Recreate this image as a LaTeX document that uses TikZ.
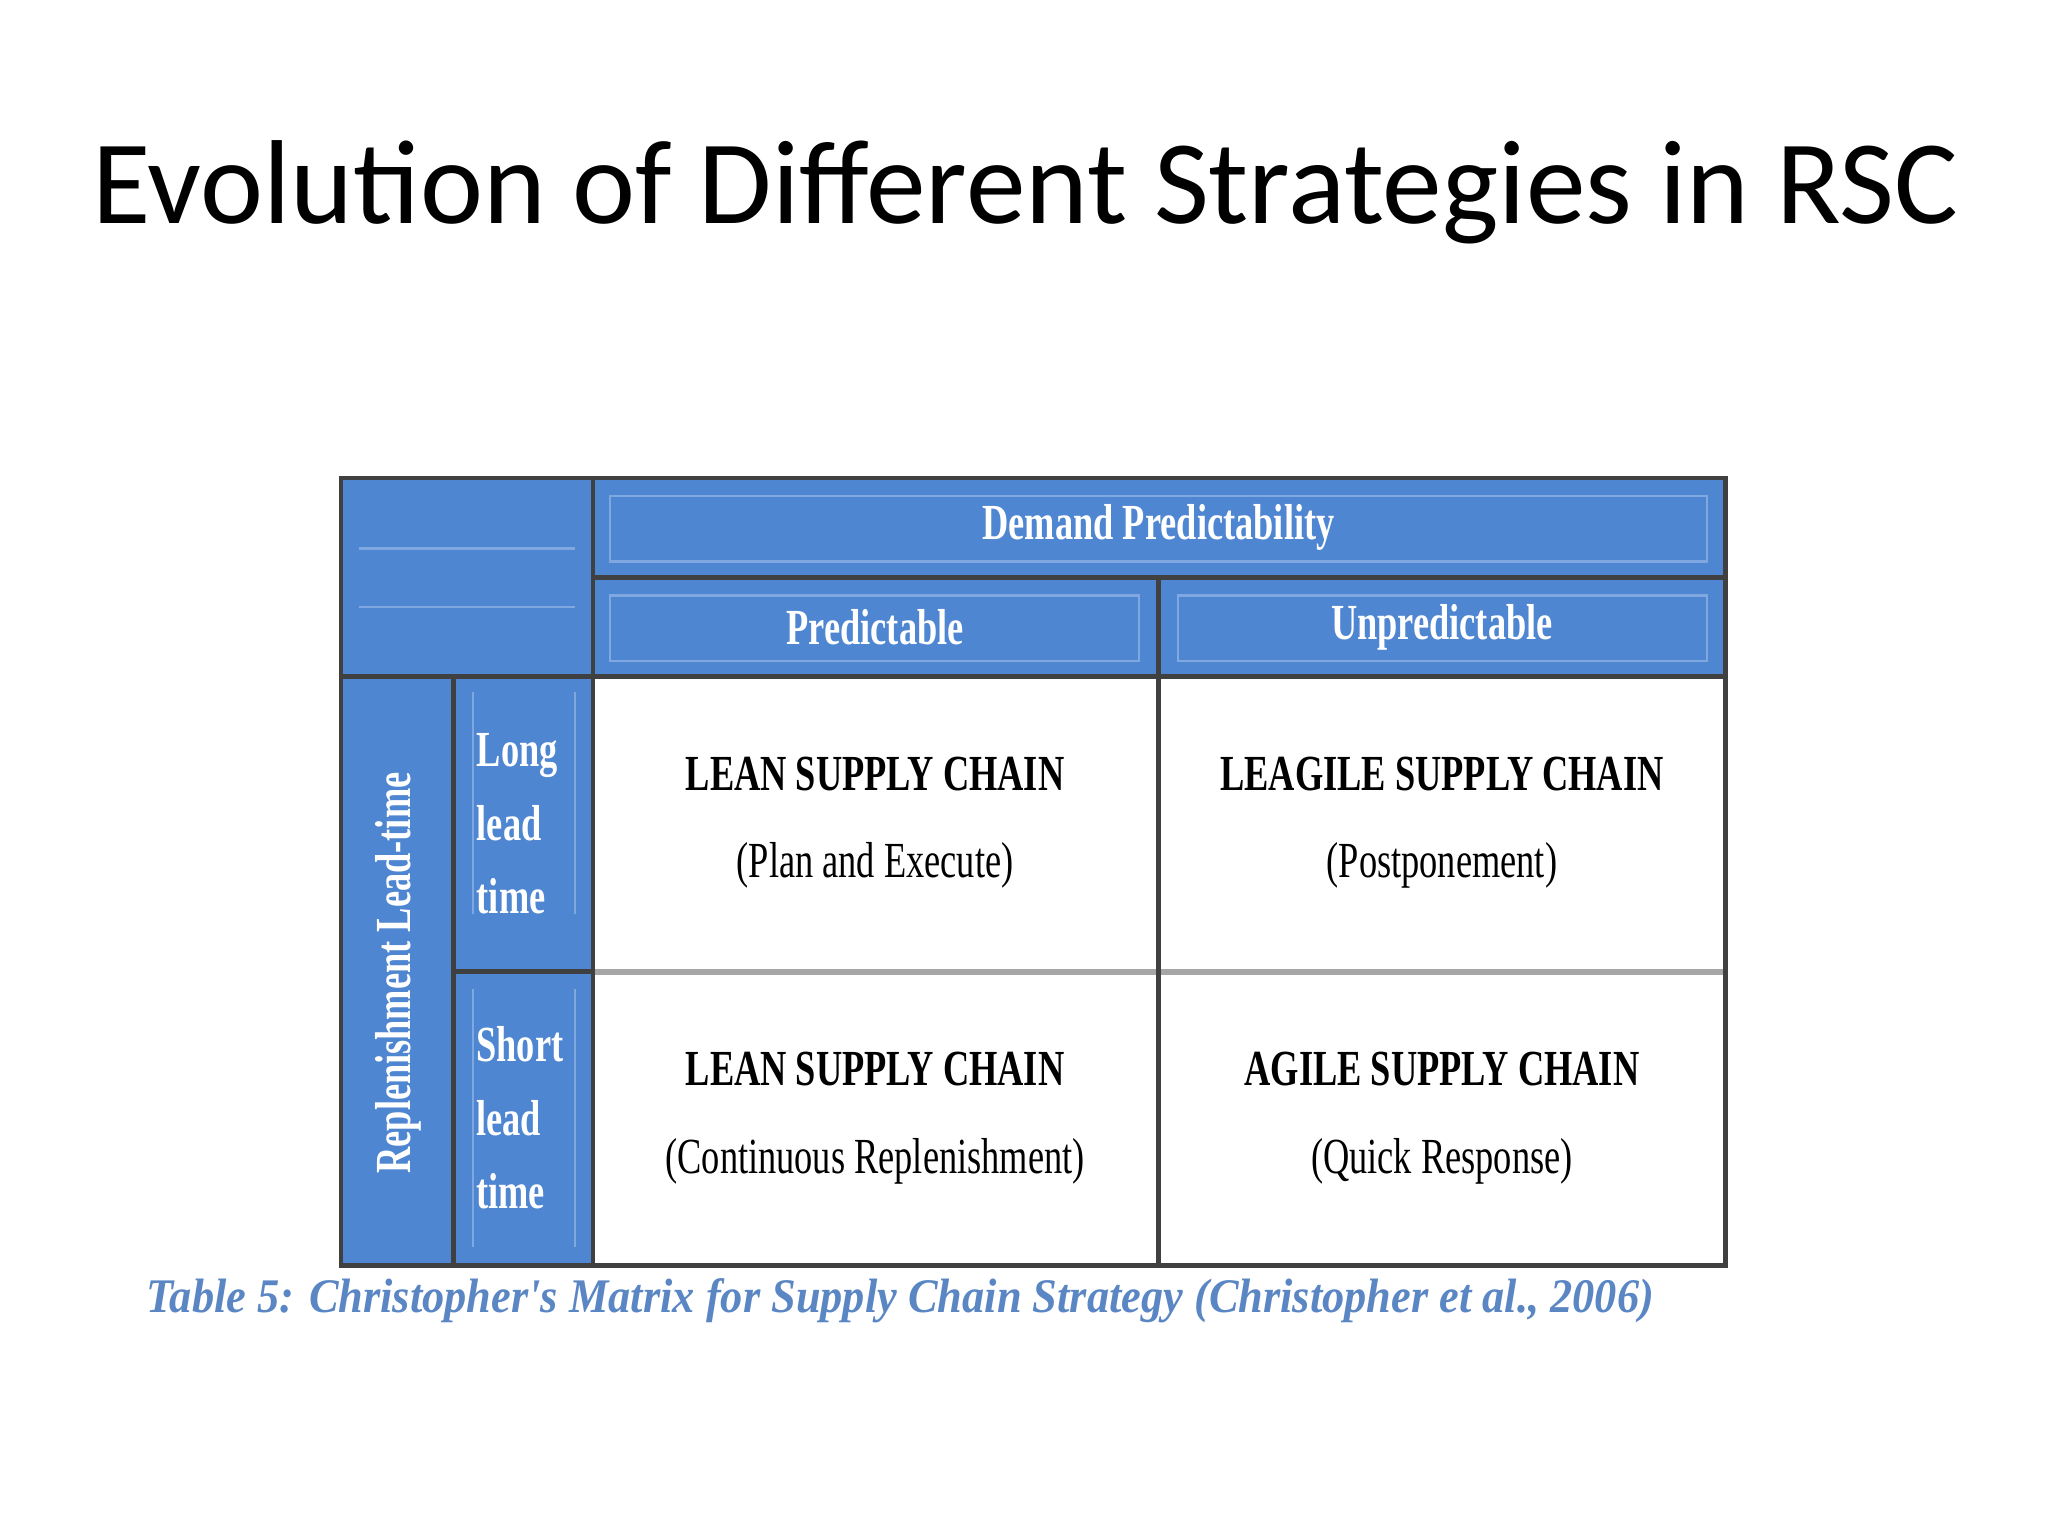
\documentclass[tikz,border=0pt]{standalone}
\usepackage{fontspec}
\setmainfont{Liberation Serif}
\newfontfamily\titlefont{Carlito}
\newfontfamily\tabfont[FakeStretch=0.72]{Liberation Serif}
\newfontfamily\capfont[FakeStretch=0.92]{Liberation Serif}
\definecolor{hblue}{HTML}{4F86D1}
\definecolor{lblue}{HTML}{7FA8E0}
\definecolor{cblue}{HTML}{5A86C4}
\begin{document}
\begin{tikzpicture}[x=0.01cm,y=-0.01cm,
  hdr/.style={font=\tabfont\bfseries\fontsize{11}{13}\selectfont,text=white},
  body/.style={font=\tabfont\fontsize{11}{19}\selectfont,align=center,text=black},
  side/.style={font=\tabfont\bfseries\fontsize{11}{16}\selectfont,text=white,align=left},
  inset/.style={draw=lblue,line width=0.5pt}]
\useasboundingbox (0,0) rectangle (1568,1176);
\fill[white] (0,0) rectangle (1568,1176);
\node (title) at (785,147) {\titlefont\fontsize{26}{30}\selectfont Evolution of Different Strategies in RSC};
% blue areas
\fill[hblue] (261,366) rectangle (1321,518);
\fill[hblue] (261,518) rectangle (454,969);
% inset lines
\draw[inset] (467,380) rectangle (1307,430);
\draw[inset] (467,456) rectangle (872,506);
\draw[inset] (902,456) rectangle (1307,506);
\draw[inset] (275,420) -- (440,420);
\draw[inset] (275,465) -- (440,465);
\draw[inset] (362,530) -- (362,700) (440,530) -- (440,700);
\draw[inset] (362,757) -- (362,955) (440,757) -- (440,955);
% grid
\draw[gray!70,line width=1.2pt] (454,744) -- (1321,744);
\draw[black!75,line width=1pt] (887,442) -- (887,969);
\draw[black!75,line width=1pt] (454,442) -- (1321,442);
\draw[black!75,line width=1pt] (261,518) -- (1321,518);
\draw[black!75,line width=1pt] (454,366) -- (454,969);
\draw[black!75,line width=1pt] (347,518) -- (347,969);
\draw[black!75,line width=1pt] (347,744) -- (454,744);
\draw[black!75,line width=1pt] (261,366) rectangle (1321,969);
% texts
\node[hdr] (dp) at (887,404) {Demand Predictability};
\node[hdr] (pr) at (670,480) {Predictable};
\node[hdr] (up) at (1104,480) {Unpredictable};
\node[side,rotate=90] (rl) at (305,745) {Replenishment Lead-time};
\node[side] (ll) at (396,631) {Long\\lead\\time};
\node[side] (sl) at (398,856) {Short\\lead\\time};
\node[body] (c1) at (670,630) {\textbf{LEAN SUPPLY CHAIN}\\(Plan and Execute)};
\node[body] (c2) at (1104,630) {\textbf{LEAGILE SUPPLY CHAIN}\\(Postponement)};
\node[body] (c3) at (670,856) {\textbf{LEAN SUPPLY CHAIN}\\(Continuous Replenishment)};
\node[body] (c4) at (1104,856) {\textbf{AGILE SUPPLY CHAIN}\\(Quick Response)};
\node[anchor=west,text=cblue] (cap) at (100,996) {\capfont\bfseries\itshape\fontsize{10.5}{12}\selectfont Table 5: Christopher's Matrix for Supply Chain Strategy (Christopher et al., 2006)};
\end{tikzpicture}
\end{document}
